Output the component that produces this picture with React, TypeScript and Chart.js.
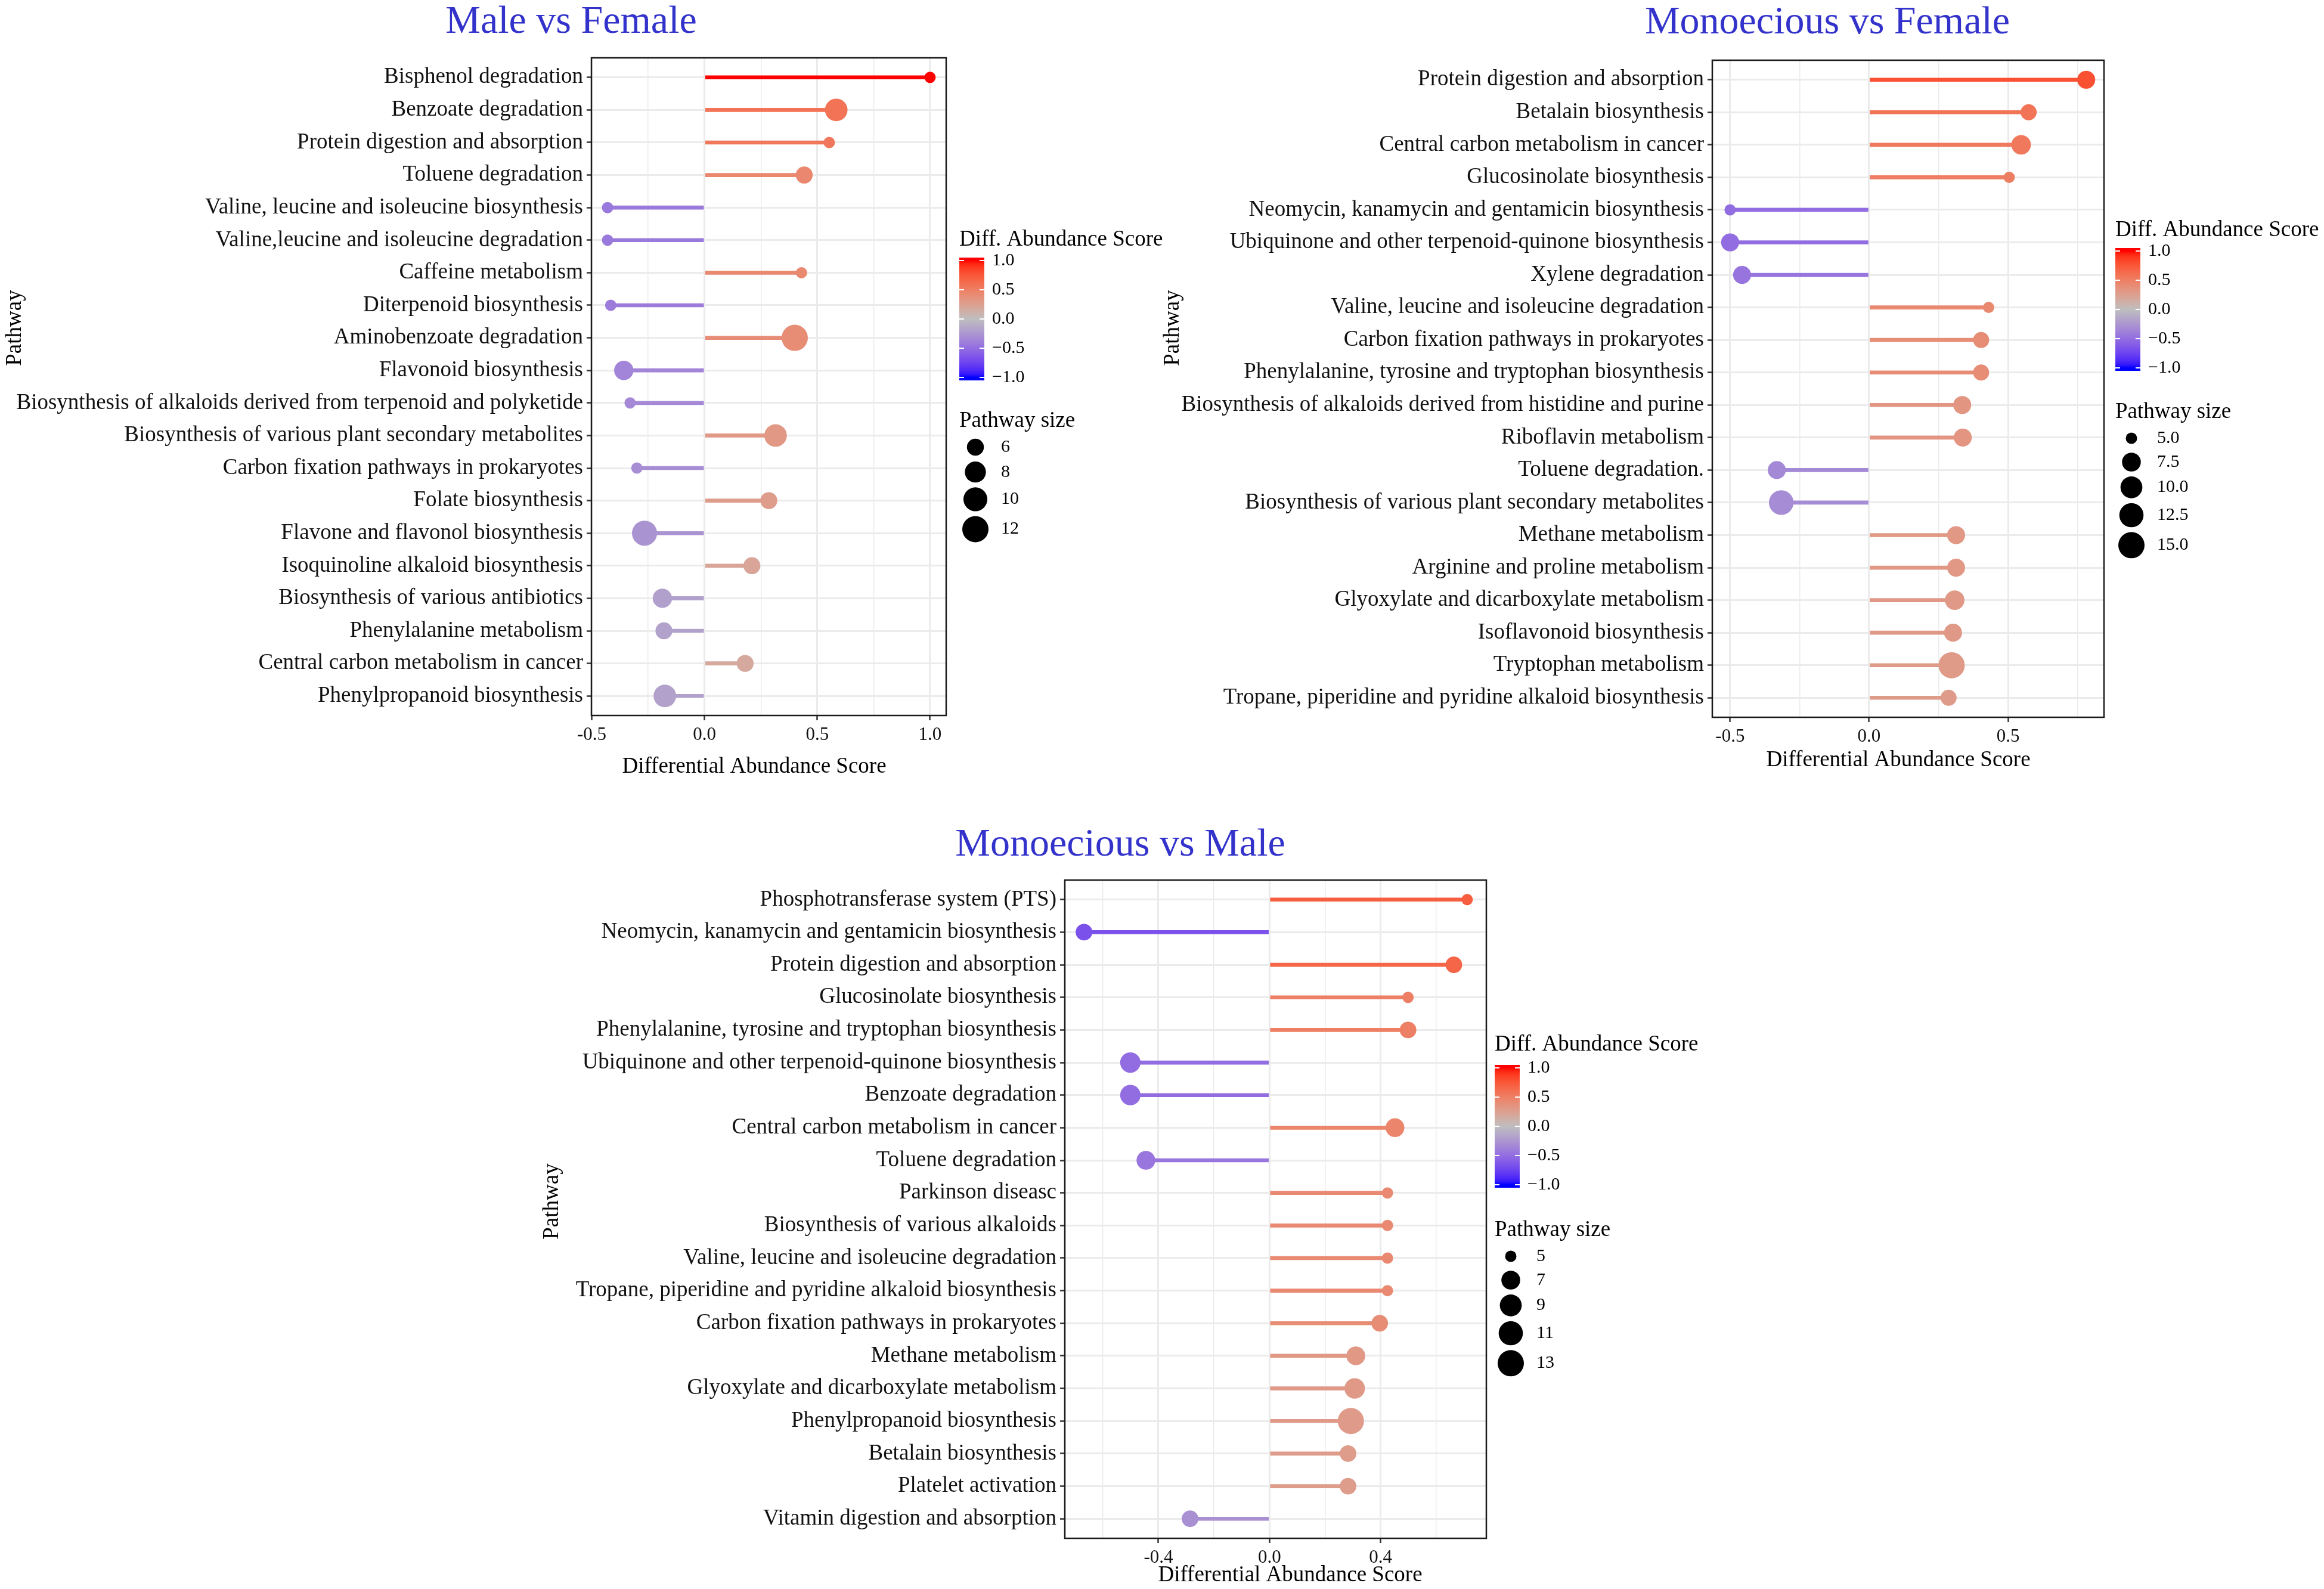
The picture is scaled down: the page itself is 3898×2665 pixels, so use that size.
import React, { useEffect, useRef } from "react";
import { Chart, registerables } from "chart.js";

Chart.register(...registerables);

const FONT = '"Liberation Serif", "Times New Roman", Times, serif';

// ---------------- Male vs Female ----------------
const mfPathways = [
  "Bisphenol degradation",
  "Benzoate degradation",
  "Protein digestion and absorption",
  "Toluene degradation",
  "Valine, leucine and isoleucine biosynthesis",
  "Valine,leucine and isoleucine degradation",
  "Caffeine metabolism",
  "Diterpenoid biosynthesis",
  "Aminobenzoate degradation",
  "Flavonoid biosynthesis",
  "Biosynthesis of alkaloids derived from terpenoid and polyketide",
  "Biosynthesis of various plant secondary metabolites",
  "Carbon fixation pathways in prokaryotes",
  "Folate biosynthesis",
  "Flavone and flavonol biosynthesis",
  "Isoquinoline alkaloid biosynthesis",
  "Biosynthesis of various antibiotics",
  "Phenylalanine metabolism",
  "Central carbon metabolism in cancer",
  "Phenylpropanoid biosynthesis",
];
const mfScores = [1.0, 0.584, 0.553, 0.442, -0.43, -0.43, 0.43, -0.416, 0.40, -0.358, -0.33, 0.315, -0.30, 0.285, -0.266, 0.21, -0.187, -0.18, 0.18, -0.176];
const mfSizes = [5, 9, 5, 6, 5, 5, 5, 5, 12, 7, 5, 9, 5, 6, 11, 6, 7, 6, 6, 9];
const mfMajorTicks = [-0.5, 0, 0.5, 1.0];
const mfMajorTickLabels = ["-0.5", "0.0", "0.5", "1.0"];
const mfMinorTicks = [-0.25, 0.25, 0.75];
const mfSizeBreaks = [6, 8, 10, 12];
const mfSizeLabels = ["6", "8", "10", "12"];

// ---------------- Monoecious vs Female ----------------
const mofPathways = [
  "Protein digestion and absorption",
  "Betalain biosynthesis",
  "Central carbon metabolism in cancer",
  "Glucosinolate biosynthesis",
  "Neomycin, kanamycin and gentamicin biosynthesis",
  "Ubiquinone and other terpenoid-quinone biosynthesis",
  "Xylene degradation",
  "Valine, leucine and isoleucine degradation",
  "Carbon fixation pathways in prokaryotes",
  "Phenylalanine, tyrosine and tryptophan biosynthesis",
  "Biosynthesis of alkaloids derived from histidine and purine",
  "Riboflavin metabolism",
  "Toluene degradation.",
  "Biosynthesis of various plant secondary metabolites",
  "Methane metabolism",
  "Arginine and proline metabolism",
  "Glyoxylate and dicarboxylate metabolism",
  "Isoflavonoid biosynthesis",
  "Tryptophan metabolism",
  "Tropane, piperidine and pyridine alkaloid biosynthesis",
];
const mofScores = [0.781, 0.574, 0.547, 0.504, -0.50, -0.50, -0.457, 0.43, 0.403, 0.403, 0.335, 0.337, -0.332, -0.316, 0.313, 0.313, 0.308, 0.302, 0.297, 0.286];
const mofSizes = [7, 6, 8, 5, 5, 7, 7, 5, 6, 6, 7, 7, 7, 13, 7, 7, 8, 7, 15, 6];
const mofMajorTicks = [-0.5, 0, 0.5];
const mofMajorTickLabels = ["-0.5", "0.0", "0.5"];
const mofMinorTicks = [-0.25, 0.25, 0.75];
const mofSizeBreaks = [5, 7.5, 10, 12.5, 15];
const mofSizeLabels = ["5.0", "7.5", "10.0", "12.5", "15.0"];

// ---------------- Monoecious vs Male ----------------
const mmPathways = [
  "Phosphotransferase system (PTS)",
  "Neomycin, kanamycin and gentamicin biosynthesis",
  "Protein digestion and absorption",
  "Glucosinolate biosynthesis",
  "Phenylalanine, tyrosine and tryptophan biosynthesis",
  "Ubiquinone and other terpenoid-quinone biosynthesis",
  "Benzoate degradation",
  "Central carbon metabolism in cancer",
  "Toluene degradation",
  "Parkinson diseasc",
  "Biosynthesis of various alkaloids",
  "Valine, leucine and isoleucine degradation",
  "Tropane, piperidine and pyridine alkaloid biosynthesis",
  "Carbon fixation pathways in prokaryotes",
  "Methane metabolism",
  "Glyoxylate and dicarboxylate metabolism",
  "Phenylpropanoid biosynthesis",
  "Betalain biosynthesis",
  "Platelet activation",
  "Vitamin digestion and absorption",
];
const mmScores = [0.712, -0.668, 0.664, 0.499, 0.499, -0.501, -0.501, 0.452, -0.445, 0.425, 0.425, 0.425, 0.425, 0.397, 0.311, 0.307, 0.293, 0.283, 0.283, -0.286];
const mmSizes = [5, 6, 6, 5, 6, 8, 8, 7, 7, 5, 5, 5, 5, 6, 7, 8, 13, 6, 6, 6];
const mmMajorTicks = [-0.4, 0, 0.4];
const mmMajorTickLabels = ["-0.4", "0.0", "0.4"];
const mmMinorTicks = [-0.6, -0.2, 0.2, 0.6];
const mmSizeBreaks = [5, 7, 9, 11, 13];
const mmSizeLabels = ["5", "7", "9", "11", "13"];

// ---------------- shared colour legend ----------------
const colorBreaks = [1, 0.5, 0, -0.5, -1];
const colorBreakLabels = ["1.0", "0.5", "0.0", "\u22120.5", "\u22121.0"];

const LOW = "#0000FF";
const MID = "#BEBEBE";
const HIGH = "#FF0000";

function hexToRgb(h: string): number[] {
  return [parseInt(h.slice(1, 3), 16), parseInt(h.slice(3, 5), 16), parseInt(h.slice(5, 7), 16)];
}
function toLab(rgb: number[]): number[] {
  const lin = rgb.map((c) => {
    c /= 255;
    return c <= 0.04045 ? c / 12.92 : Math.pow((c + 0.055) / 1.055, 2.4);
  });
  const X = (0.4124564 * lin[0] + 0.3575761 * lin[1] + 0.1804375 * lin[2]) / 0.95047;
  const Y = 0.2126729 * lin[0] + 0.7151522 * lin[1] + 0.072175 * lin[2];
  const Z = (0.0193339 * lin[0] + 0.119192 * lin[1] + 0.9503041 * lin[2]) / 1.08883;
  const f = (t: number) => (t > 216 / 24389 ? Math.cbrt(t) : ((24389 / 27) * t + 16) / 116);
  const fx = f(X), fy = f(Y), fz = f(Z);
  return [116 * fy - 16, 500 * (fx - fy), 200 * (fy - fz)];
}
function fromLab(lab: number[]): string {
  const [L, a, b] = lab;
  const fy = (L + 16) / 116, fx = fy + a / 500, fz = fy - b / 200;
  const finv = (t: number) => (t * t * t > 216 / 24389 ? t * t * t : (116 * t - 16) / (24389 / 27));
  const X = finv(fx) * 0.95047, Y = finv(fy), Z = finv(fz) * 1.08883;
  const r = 3.2404542 * X - 1.5371385 * Y - 0.4985314 * Z;
  const g = -0.969266 * X + 1.8760108 * Y + 0.041556 * Z;
  const bl = 0.0556434 * X - 0.2040259 * Y + 1.0572252 * Z;
  const gam = (c: number) => {
    c = Math.max(0, Math.min(1, c));
    const v = c <= 0.0031308 ? 12.92 * c : 1.055 * Math.pow(c, 1 / 2.4) - 0.055;
    return Math.round(v * 255);
  };
  return `rgb(${gam(r)},${gam(g)},${gam(bl)})`;
}
const labLow = toLab(hexToRgb(LOW));
const labMid = toLab(hexToRgb(MID));
const labHigh = toLab(hexToRgb(HIGH));
function scoreColor(v: number): string {
  const t = Math.max(-1, Math.min(1, v));
  const end = t >= 0 ? labHigh : labLow;
  const k = Math.abs(t);
  return fromLab(labMid.map((m, i) => m + (end[i] - m) * k));
}

type PanelSpec = {
  title: string;
  pathways: string[];
  scores: number[];
  sizes: number[];
  majorTicks: number[];
  majorTickLabels: string[];
  minorTicks: number[];
  sizeBreaks: number[];
  sizeLabels: string[];
  canvas: { left: number; top: number; w: number; h: number };
  area: { l: number; t: number; r: number; b: number };
  titlePos: { x: number; y: number };
  xTitlePos: { x: number; y: number };
  yTitlePos: { x: number; y: number };
  legend: { left: number; colorTitleY: number; barTop: number; sizeTitleY: number };
};

const panels: PanelSpec[] = [
  {
    title: "Male vs Female",
    pathways: mfPathways,
    scores: mfScores,
    sizes: mfSizes,
    majorTicks: mfMajorTicks,
    majorTickLabels: mfMajorTickLabels,
    minorTicks: mfMinorTicks,
    sizeBreaks: mfSizeBreaks,
    sizeLabels: mfSizeLabels,
    canvas: { left: 0, top: 0, w: 1950, h: 1330 },
    area: { l: 992, t: 97, r: 1587, b: 1200 },
    titlePos: { x: 958, y: 55 },
    xTitlePos: { x: 1265, y: 1286 },
    yTitlePos: { x: 25, y: 550 },
    legend: { left: 1609, colorTitleY: 402, barTop: 432, sizeTitleY: 706 },
  },
  {
    title: "Monoecious vs Female",
    pathways: mofPathways,
    scores: mofScores,
    sizes: mofSizes,
    majorTicks: mofMajorTicks,
    majorTickLabels: mofMajorTickLabels,
    minorTicks: mofMinorTicks,
    sizeBreaks: mofSizeBreaks,
    sizeLabels: mofSizeLabels,
    canvas: { left: 1900, top: 0, w: 1998, h: 1330 },
    area: { l: 2872, t: 101, r: 3529, b: 1203 },
    titlePos: { x: 3065, y: 56 },
    xTitlePos: { x: 3184, y: 1275 },
    yTitlePos: { x: 1967, y: 550 },
    legend: { left: 3548, colorTitleY: 386, barTop: 416, sizeTitleY: 691 },
  },
  {
    title: "Monoecious vs Male",
    pathways: mmPathways,
    scores: mmScores,
    sizes: mmSizes,
    majorTicks: mmMajorTicks,
    majorTickLabels: mmMajorTickLabels,
    minorTicks: mmMinorTicks,
    sizeBreaks: mmSizeBreaks,
    sizeLabels: mmSizeLabels,
    canvas: { left: 860, top: 1340, w: 2040, h: 1325 },
    area: { l: 1786, t: 1476, r: 2493, b: 2580 },
    titlePos: { x: 1879, y: 1435 },
    xTitlePos: { x: 2164, y: 2642 },
    yTitlePos: { x: 926, y: 2015 },
    legend: { left: 2507, colorTitleY: 1752, barTop: 1786, sizeTitleY: 2063 },
  },
];

function buildConfig(s: PanelSpec): any {
  const n = s.pathways.length;
  const lo = Math.min(0, ...s.scores);
  const hi = Math.max(0, ...s.scores);
  const pad = (hi - lo) * 0.05;
  const xMin = lo - pad;
  const xMax = hi + pad;
  const sMin = Math.min(...s.sizes);
  const sMax = Math.max(...s.sizes);
  const radius = (v: number) =>
    7 + 2.5 * (1 + 5 * Math.sqrt(Math.max(0, Math.min(1, (v - sMin) / (sMax - sMin)))));
  const colors = s.scores.map(scoreColor);
  const radii = s.sizes.map(radius);
  const allTicks = [...s.majorTicks, ...s.minorTicks]
    .filter((v) => v >= xMin && v <= xMax)
    .sort((a, b) => a - b);
  const majorIndex = (v: number) => s.majorTicks.findIndex((m) => Math.abs(m - v) < 1e-9);
  const ox = s.canvas.left;
  const oy = s.canvas.top;
  const XH = 60;
  const yW = s.area.l - ox;
  const padding = {
    left: 0,
    top: s.area.t - oy,
    right: ox + s.canvas.w - s.area.r,
    bottom: oy + s.canvas.h - s.area.b - XH,
  };

  const decor = {
    id: "decor",
    afterDraw(chart: any) {
      const c = chart.ctx as CanvasRenderingContext2D;
      const a = chart.chartArea;
      c.save();
      // panel border
      c.strokeStyle = "#1a1a1a";
      c.lineWidth = 2.5;
      c.strokeRect(a.left, a.top, a.right - a.left, a.bottom - a.top);
      // title
      c.fillStyle = "#3333CC";
      c.font = `66px ${FONT}`;
      c.textAlign = "center";
      c.textBaseline = "alphabetic";
      c.fillText(s.title, s.titlePos.x - ox, s.titlePos.y - oy);
      // axis titles
      c.fillStyle = "#000";
      c.font = `37px ${FONT}`;
      c.textBaseline = "middle";
      c.fillText("Differential Abundance Score", s.xTitlePos.x - ox, s.xTitlePos.y - oy);
      c.save();
      c.translate(s.yTitlePos.x - ox, s.yTitlePos.y - oy);
      c.rotate(-Math.PI / 2);
      c.fillText("Pathway", 0, 0);
      c.restore();

      // colour legend
      const L = s.legend.left - ox;
      c.textAlign = "left";
      c.fillText("Diff. Abundance Score", L, s.legend.colorTitleY - oy);
      const barTop = s.legend.barTop - oy;
      const barH = 206;
      const barW = 42;
      const inset = 5;
      const yOf = (v: number) => barTop + inset + ((1 - v) / 2) * (barH - 2 * inset);
      const grad = c.createLinearGradient(0, yOf(1), 0, yOf(-1));
      for (let k = 0; k <= 40; k++) {
        grad.addColorStop(k / 40, scoreColor(1 - (2 * k) / 40));
      }
      c.fillStyle = grad;
      c.fillRect(L, barTop, barW, barH);
      c.strokeStyle = "#ffffff";
      c.lineWidth = 2;
      c.font = `30px ${FONT}`;
      colorBreaks.forEach((v, i) => {
        const y = yOf(v);
        c.beginPath();
        c.moveTo(L, y);
        c.lineTo(L + 8, y);
        c.moveTo(L + barW - 8, y);
        c.lineTo(L + barW, y);
        c.stroke();
        c.fillStyle = "#000";
        c.fillText(colorBreakLabels[i], L + barW + 13, y);
      });

      // size legend
      c.font = `37px ${FONT}`;
      c.fillStyle = "#000";
      c.fillText("Pathway size", L, s.legend.sizeTitleY - oy);
      let keyTop = s.legend.sizeTitleY - oy + 24;
      c.font = `30px ${FONT}`;
      s.sizeBreaks.forEach((v, i) => {
        const r = radius(v);
        const h = Math.max(40, 2 * r + 8);
        const cy = keyTop + h / 2;
        c.fillStyle = "#000";
        c.beginPath();
        c.arc(L + 27, cy, r, 0, Math.PI * 2);
        c.fill();
        c.fillText(s.sizeLabels[i], L + 70, cy);
        keyTop += h;
      });
      c.restore();
    },
  };

  return {
    type: "scatter",
    data: {
      datasets: [
        {
          type: "bar",
          indexAxis: "y",
          data: s.scores.map((v, i) => ({ x: [0, v], y: i })),
          backgroundColor: colors,
          borderWidth: 0,
          barThickness: 6,
          order: 2,
        },
        {
          type: "scatter",
          data: s.scores.map((v, i) => ({ x: v, y: i })),
          backgroundColor: colors,
          borderWidth: 0,
          pointRadius: radii,
          pointHoverRadius: radii,
          pointBorderWidth: 0,
          order: 1,
        },
      ],
    },
    options: {
      animation: false,
      responsive: false,
      maintainAspectRatio: false,
      devicePixelRatio: 1,
      events: [],
      layout: { padding },
      plugins: { legend: { display: false }, tooltip: { enabled: false } },
      scales: {
        x: {
          type: "linear",
          position: "bottom",
          offset: false,
          min: xMin,
          max: xMax,
          afterBuildTicks: (scale: any) => {
            scale.ticks = allTicks.map((v) => ({ value: v }));
          },
          afterFit: (scale: any) => {
            scale.height = XH;
          },
          ticks: {
            autoSkip: false,
            maxRotation: 0,
            padding: 6,
            color: "#111",
            font: { family: FONT, size: 31 },
            callback: (v: any) => {
              const i = majorIndex(Number(v));
              return i >= 0 ? s.majorTickLabels[i] : "";
            },
          },
          grid: {
            offset: false,
            color: "#EBEBEB",
            lineWidth: (ctx: any) => (ctx.tick && majorIndex(ctx.tick.value) >= 0 ? 3 : 1.5),
            tickColor: (ctx: any) =>
              ctx.tick && majorIndex(ctx.tick.value) >= 0 ? "#333333" : "rgba(0,0,0,0)",
            tickLength: 8,
            tickWidth: 2.5,
          },
          border: { display: false },
        },
        y: {
          type: "linear",
          position: "left",
          offset: false,
          reverse: true,
          min: -0.6,
          max: n - 0.4,
          afterBuildTicks: (scale: any) => {
            scale.ticks = s.pathways.map((_, i) => ({ value: i }));
          },
          afterFit: (scale: any) => {
            scale.width = yW;
          },
          ticks: {
            autoSkip: false,
            padding: 6,
            color: "#111",
            font: { family: FONT, size: 37 },
            callback: (v: any) => s.pathways[Math.round(Number(v))] ?? "",
          },
          grid: {
            offset: false,
            color: "#EBEBEB",
            lineWidth: 3,
            tickColor: "#333333",
            tickLength: 8,
            tickWidth: 2.5,
          },
          border: { display: false },
        },
      },
    },
    plugins: [decor],
  };
}

function Panel({ spec }: { spec: PanelSpec }) {
  const ref = useRef<HTMLCanvasElement>(null);
  useEffect(() => {
    const canvas = ref.current;
    if (!canvas) return;
    const chart = new Chart(canvas, buildConfig(spec));
    return () => chart.destroy();
  }, [spec]);
  return (
    <canvas
      ref={ref}
      width={spec.canvas.w}
      height={spec.canvas.h}
      style={{
        position: "absolute",
        left: spec.canvas.left,
        top: spec.canvas.top,
        width: spec.canvas.w,
        height: spec.canvas.h,
      }}
    />
  );
}

export default function App() {
  useEffect(() => {
    document.body.style.margin = "0";
    document.body.style.background = "#ffffff";
  }, []);
  return (
    <div style={{ position: "relative", width: 3898, height: 2665, background: "#ffffff", overflow: "hidden" }}>
      {panels.map((p) => (
        <Panel key={p.title} spec={p} />
      ))}
    </div>
  );
}
